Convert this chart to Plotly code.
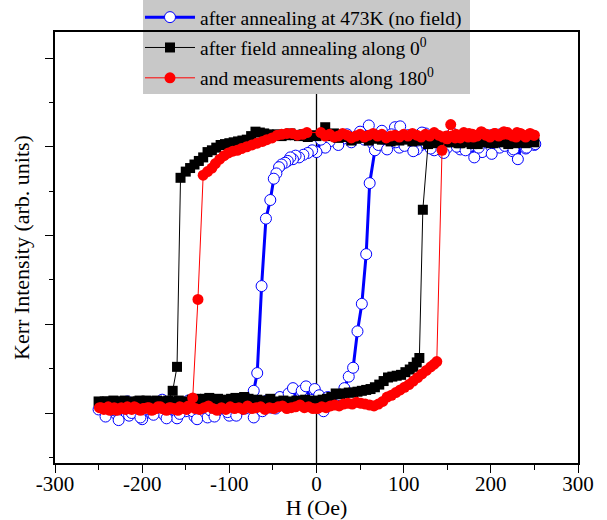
import plotly.graph_objects as go

# ---------------- data (H in Oe, Kerr intensity in arb. units) ----------------
# Blue: after annealing at 473K (no field) - descending then ascending branch
blue_h_down = [250,245,240,235,230,225,220,215,210,205,200,195,190,185,180,175,170,165,160,155,
               150,145,140,135,130,125,120,115,110,105,100,95,90,85,80,75,70,65,60,55,
               50,45,40,35,30,25,20,15,10,5,0,
               -5,-10,-15,-20,-24,-27,-30,-33,-36,-40,-43,-46,-49,-53,-58,-63,-68,-72,-76,-80,
               -85,-90,-95,-100,-105,-110,-115,-120,-125,-130,-135,-140,-145,-150,-155,-160,-165,
               -170,-175,-180,-185,-190,-195,-200,-205,-210,-215,-220,-225,-230,-235,-240,-245,-250]
blue_v_down = [3.02,3.10,2.98,3.06,3.12,2.95,3.04,3.09,2.99,3.07,
               3.13,3.01,2.94,3.08,3.11,3.00,3.05,2.97,3.12,3.06,
               2.99,3.09,3.03,2.96,3.10,3.15,3.02,2.97,3.08,3.13,
               3.04,2.99,3.22,3.10,3.06,3.18,3.12,3.03,3.24,3.08,
               3.17,3.11,3.05,3.14,3.09,3.02,3.13,3.06,2.99,3.08,2.94,
               2.96,2.93,2.91,2.88,2.90,2.86,2.88,2.84,2.82,2.80,2.77,2.70,2.64,2.40,2.19,1.43,0.45,0.25,0.14,0.06,
               0.10,0.02,0.12,-0.03,0.07,0.14,0.01,0.09,-0.05,0.06,
               0.13,-0.04,0.08,0.02,0.11,-0.06,0.04,0.10,-0.02,0.07,
               0.12,0.00,0.08,-0.07,0.05,0.11,-0.03,0.06,0.09,-0.01,
               0.07,0.03,0.10,0.04]
blue_h_up = [-247,-242,-237,-232,-227,-222,-217,-212,-207,-202,-197,-192,-187,-182,-177,-172,-167,-162,-157,-152,
             -147,-142,-137,-132,-127,-122,-117,-112,-107,-102,-97,-92,-87,-82,-77,-72,-67,-62,-57,-52,
             -47,-42,-37,-32,-27,-22,-17,-12,-7,-2,3,8,13,18,
             23,27,32,37,42,47,52,57,61,67,71,
             76,81,86,91,96,101,106,111,116,121,126,131,136,141,146,151,156,161,166,171,
             176,181,186,191,196,201,206,211,216,221,226,231,236,241,246,251]
blue_v_up = [0.08,-0.04,0.11,0.03,-0.08,0.06,0.13,0.00,0.09,-0.05,
             0.04,0.12,-0.02,0.07,0.15,-0.06,0.05,0.10,-0.01,0.08,
             0.14,0.02,-0.07,0.06,0.11,0.03,-0.04,0.09,0.13,0.01,
             0.07,-0.03,0.10,0.05,0.12,-0.05,0.08,0.02,0.14,0.06,
             0.05,0.18,0.10,0.22,0.28,0.12,0.25,0.30,0.15,0.27,0.20,0.02,0.18,0.14,
             0.16,0.20,0.28,0.41,0.51,0.92,1.23,1.79,2.59,2.96,3.02,
             3.09,2.97,3.14,3.05,3.23,3.01,3.11,2.95,3.07,3.16,
             3.03,2.98,3.12,3.06,2.93,3.10,3.15,3.00,3.08,2.96,
             3.13,2.88,2.99,3.11,3.06,2.92,3.09,3.14,3.01,3.07,
             2.97,2.86,3.05,2.99,3.10,3.03]

# Black: after field annealing along 0 deg
black_h_down = [250,245,240,235,230,225,220,215,210,205,200,195,190,185,180,175,170,165,160,155,
                150,145,140,135,130,125,120,115,110,105,100,95,90,85,80,75,70,65,60,55,
                50,45,40,35,30,25,20,15,10,5,0,-5,-10,-15,-20,-25,-30,-35,-40,-45,
                -50,-55,-60,-65,-70,-75,-80,-85,-90,-95,-100,-105,-110,-115,-120,-125,-130,-135,-140,-145,
                -150,-156,-160,-165,
                -170,-175,-180,-185,-190,-195,-200,-205,-210,-215,-220,-225,-230,-235,-240,-245,-250]
black_v_down = [3.05,3.07,3.04,3.06,3.08,3.05,3.03,3.06,3.09,3.05,
                3.04,3.07,3.06,3.03,3.05,3.08,3.06,3.04,3.07,3.05,
                3.09,3.06,3.07,3.05,3.08,3.10,3.07,3.09,3.06,3.08,
                3.11,3.07,3.09,3.06,3.10,3.08,3.11,3.09,3.07,3.10,
                3.12,3.09,3.07,3.11,3.13,3.10,3.15,3.12,3.22,3.14,
                3.12,3.13,3.11,3.14,3.12,3.13,3.15,3.13,3.12,3.14,
                3.13,3.14,3.15,3.16,3.17,3.12,3.08,3.07,3.06,3.05,
                3.04,3.03,3.02,2.99,2.96,2.94,2.88,2.84,2.80,2.76,
                2.72,2.65,0.52,0.25,
                0.14,0.12,0.13,0.11,0.13,0.14,0.12,0.13,0.11,0.12,0.14,0.13,0.12,0.11,0.13,0.12,0.13]
black_h_up = [-248,-243,-238,-233,-228,-223,-218,-213,-208,-203,-198,-193,-188,-183,-178,-173,-168,-163,-158,-153,
              -148,-143,-138,-133,-128,-123,-118,-113,-108,-103,-98,-93,-88,-83,-78,-73,-68,-63,-58,-53,
              -48,-43,-38,-33,-28,-23,-18,-13,-8,-3,
              2,7,12,17,22,27,32,37,42,47,52,57,62,67,72,77,82,87,92,97,102,107,111,115,118,
              122,128,
              133,138,143,148,153,158,163,168,173,178,183,188,193,198,203,208,213,218,223,228,233,238,243,248]
black_v_up = [0.12,0.13,0.11,0.14,0.12,0.13,0.12,0.11,0.13,0.14,
              0.12,0.13,0.12,0.14,0.13,0.11,0.12,0.13,0.14,0.12,
              0.13,0.15,0.16,0.14,0.16,0.17,0.15,0.16,0.14,0.15,
              0.16,0.17,0.15,0.18,0.16,0.14,0.15,0.13,0.14,0.16,
              0.13,0.12,0.14,0.13,0.12,0.14,0.13,0.15,0.14,0.13,
              0.14,0.15,0.16,0.18,0.22,0.21,0.22,0.23,0.23,0.24,0.25,0.26,0.27,0.29,0.32,0.36,0.40,0.41,0.42,0.43,0.46,0.49,0.52,0.57,0.62,
              2.29,3.03,
              3.06,3.04,3.07,3.05,3.08,3.06,3.04,3.07,3.05,3.03,3.06,3.08,3.05,3.07,3.04,3.06,3.05,3.08,3.06,3.04,3.07,3.05,3.06,3.08]

# Red: measurements along 180 deg
red_h_down = [250,245,240,235,230,225,220,215,210,205,200,195,190,185,180,175,170,165,160,155,
              150,145,140,135,130,125,120,115,110,105,100,95,90,85,80,75,70,65,60,55,
              50,45,40,35,30,25,20,15,10,5,
              -11,-16,-22,-28,-34,-40,-45,-51,-57,-62,-68,-74,-80,-86,-91,-96,-101,-106,-111,-116,-120,-125,-130,
              -136,-142,
              -147,-152,-157,-162,-167,-172,-177,-182,-187,-192,-197,-202,-207,-212,-217,-222,-227,-232,-237,-242,-247]
red_v_down = [3.13,3.15,3.11,3.14,3.16,3.12,3.14,3.17,3.13,3.15,
              3.12,3.14,3.16,3.13,3.11,3.15,3.13,3.10,3.14,3.12,
              3.09,3.11,3.13,3.16,3.12,3.14,3.11,3.13,3.15,3.12,
              3.14,3.11,3.13,3.12,3.10,3.14,3.12,3.15,3.13,3.11,
              3.14,3.12,3.10,3.13,3.15,3.12,3.11,3.14,3.12,3.16,
              3.16,3.14,3.13,3.15,3.15,3.14,3.13,3.10,3.08,3.06,3.04,3.02,3.00,2.98,2.96,2.95,2.93,2.90,2.86,2.81,2.76,2.72,2.68,
              1.28,0.17,
              0.08,0.05,0.07,0.04,0.06,0.03,0.05,0.07,0.04,0.06,0.05,0.03,0.06,0.04,0.07,0.05,0.04,0.06,0.03,0.05,0.06]
red_h_up = [-249,-244,-239,-234,-229,-224,-219,-214,-209,-204,-199,-194,-189,-184,-179,-174,-169,-164,-159,-154,
            -149,-144,-139,-134,-129,-124,-119,-114,-109,-104,-99,-94,-89,-84,-79,-74,-69,-64,-59,-54,
            -49,-44,-39,-34,-29,-24,-19,-14,-9,-4,
            1,6,11,16,21,26,31,36,41,46,51,56,61,66,71,76,81,86,91,96,101,106,111,116,121,126,131,135,138,
            144,
            149,154,159,164,169,174,179,184,189,194,199,204,209,214,219,224,229,234,239,244,249]
red_v_up = [0.06,0.04,0.07,0.05,0.03,0.06,0.04,0.05,0.07,0.04,
            0.05,0.06,0.03,0.05,0.07,0.04,0.06,0.05,0.03,0.06,
            0.04,0.07,0.05,0.04,0.06,0.08,0.05,0.03,0.06,0.04,
            0.07,0.05,0.06,0.04,0.08,0.05,0.06,0.07,0.04,0.06,
            0.05,0.07,0.08,0.05,0.06,0.07,0.09,0.06,0.07,0.05,
            0.05,0.07,0.06,0.08,0.09,0.08,0.10,0.11,0.10,0.12,0.11,0.10,0.09,0.08,0.10,0.13,0.18,0.20,0.23,0.26,0.29,0.32,0.36,0.40,0.44,0.48,0.52,0.55,0.58,
            2.96,
            3.12,3.25,3.10,3.13,3.16,3.11,3.14,3.12,3.17,3.13,3.11,3.15,3.12,3.14,3.16,3.13,3.11,3.15,3.12,3.14,3.13]

x_ticks = [-300, -200, -100, 0, 100, 200, 300]
x_tick_labels = ["-300", "-200", "-100", "0", "100", "200", "300"]
legend_names = ["after annealing at 473K (no field)",
                "after field annealing along 0<sup>0</sup>",
                "and measurements along 180<sup>0</sup>"]

# ---------------- figure ----------------
FONT = "Liberation Serif, Times New Roman, serif"
fig = go.Figure()
fig.add_trace(go.Scatter(
    x=blue_h_down + blue_h_up, y=blue_v_down + blue_v_up, mode="lines+markers",
    name=legend_names[0], legendgroup="a",
    line=dict(color="#0000ff", width=3),
    marker=dict(symbol="circle", size=11, color="white", line=dict(color="#0000ff", width=1))))
fig.add_trace(go.Scatter(
    x=black_h_down + black_h_up, y=black_v_down + black_v_up, mode="lines+markers",
    name=legend_names[1], legendgroup="b",
    line=dict(color="black", width=1),
    marker=dict(symbol="square", size=10, color="black")))
fig.add_trace(go.Scatter(
    x=red_h_down + red_h_up, y=red_v_down + red_v_up, mode="lines+markers",
    name=legend_names[2], legendgroup="c",
    line=dict(color="#ff0000", width=1),
    marker=dict(symbol="circle", size=11, color="#ff0000")))

fig.update_layout(
    width=607, height=520,
    margin=dict(l=55, r=29, t=32, b=57, autoexpand=False),
    paper_bgcolor="white", plot_bgcolor="white",
    font=dict(family=FONT, color="black", size=20),
    showlegend=True,
    legend=dict(x=0.1625, y=1.079, xanchor="left", yanchor="top",
                bgcolor="rgba(0,0,0,0)", borderwidth=0, itemwidth=50,
                font=dict(family=FONT, size=19.5, color="black"),
                tracegroupgap=2),
    shapes=[
        dict(type="line", xref="x", yref="paper", x0=0, x1=0, y0=0, y1=1,
             line=dict(color="black", width=1.3), layer="below"),
        dict(type="rect", xref="paper", yref="paper", x0=0.1683, x1=0.7935, y0=0.8561, y1=1.08,
             fillcolor="#c8c8c8", line=dict(width=0), layer="below"),
    ],
)
fig.update_xaxes(
    range=[-300, 300], tickmode="array", tickvals=x_ticks, ticktext=x_tick_labels,
    ticks="outside", ticklen=8, tickwidth=1.3, tickcolor="black",
    minor=dict(dtick=50, tick0=-300, ticks="outside", ticklen=5, tickwidth=1.3, tickcolor="black"),
    showline=True, linecolor="black", linewidth=1.5, mirror=True,
    showgrid=False, zeroline=False, automargin=False,
    tickfont=dict(family=FONT, size=21), ticklabelstandoff=-7,
    title=dict(text="H (Oe)", font=dict(family=FONT, size=22), standoff=4),
)
fig.update_yaxes(
    range=[-0.5634, 4.293], tickmode="linear", tick0=0, dtick=1,
    showticklabels=False,
    ticks="outside", ticklen=8, tickwidth=1.3, tickcolor="black",
    minor=dict(dtick=0.5, tick0=0, ticks="outside", ticklen=4, tickwidth=1.3, tickcolor="black"),
    showline=True, linecolor="black", linewidth=1.5, mirror=True,
    showgrid=False, zeroline=False, automargin=False,
    title=dict(text="Kerr Intensity (arb. units)", font=dict(family=FONT, size=22), standoff=10),
)

fig.write_html("out.html")
